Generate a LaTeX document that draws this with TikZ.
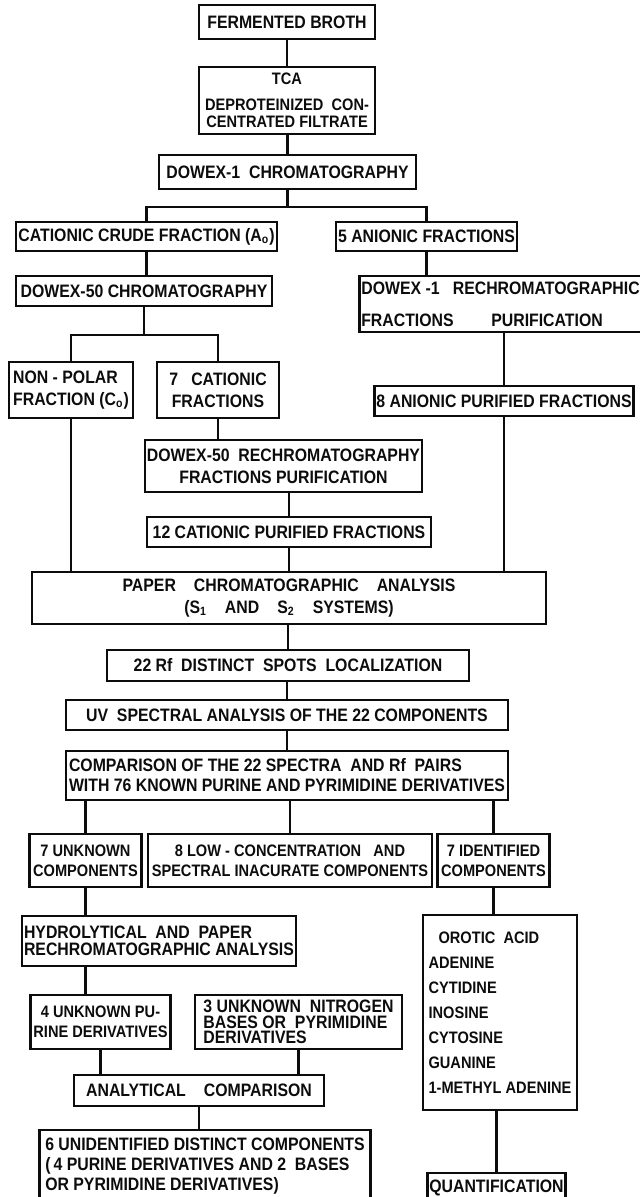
\documentclass[tikz,border=0pt]{standalone}
\usepackage{xcolor,tikz,fontspec}
\setmainfont{Liberation Sans}[FakeStretch=0.88]
\usetikzlibrary{positioning,calc}
\definecolor{ink}{RGB}{12,12,12}
\tikzset{
  box/.style={draw=ink,line width=1.3pt,inner sep=1pt,align=center,text=ink,font=\fontsize{9}{10}\selectfont\bfseries},
  lbox/.style={box,align=left},
  narrow/.style={font=\fontsize{8.3}{10}\selectfont\bfseries},
  link/.style={draw=ink,line width=1.1pt}
}

\begin{document}
\begin{tikzpicture}[x=0.5pt,y=-0.5pt]
  \useasboundingbox (0,0) rectangle (640,1197);

  \node[box,minimum width=88pt,minimum height=17pt] (broth) at (287,22) {FERMENTED BROTH};
  \node[box,narrow,minimum width=88pt,minimum height=33.5pt] (tca) at (287,100.5) {TCA\\[3pt]DEPROTEINIZED\ \ CON-\\[-1.5pt]CENTRATED FILTRATE};
  \node[box,minimum width=128.5pt,minimum height=17pt] (dowex1) at (287.5,172) {DOWEX-1\ \ CHROMATOGRAPHY};

  \node[box,minimum width=130.5pt,minimum height=14.5pt] (cation) at (146.5,236.5) {CATIONIC CRUDE FRACTION (A\textsubscript{o})};
  \node[box,minimum width=88.5pt,minimum height=14.5pt] (anion5) at (426.5,236.5) {5 ANIONIC FRACTIONS};
  \node[box,minimum width=128pt,minimum height=15pt] (dowex50) at (144,291) {DOWEX-50 CHROMATOGRAPHY};
  \node[lbox,minimum width=137.5pt,minimum height=28pt] (rechrom1) at (500.5,304) {DOWEX -1\ \ \ RECHROMATOGRAPHIC\\[6pt]\makebox[65pt][l]{FRACTIONS}PURIFICATION};
  \node[box,minimum width=128.5pt,minimum height=15pt] (anion8) at (504,401) {8 ANIONIC PURIFIED FRACTIONS};

  \node[lbox,minimum width=62pt,minimum height=28pt] (nonpolar) at (71,390) {NON - POLAR\\[1pt]FRACTION (C\textsubscript{o})};
  \node[box,minimum width=61pt,minimum height=28pt] (cat7) at (218,390) {7\ \ \ CATIONIC\\[1pt]FRACTIONS};
  \node[box,minimum width=136.5pt,minimum height=26pt] (dowex50r) at (283.5,466) {DOWEX-50\ \ RECHROMATOGRAPHY\\[1pt]FRACTIONS PURIFICATION};
  \node[box,minimum width=142pt,minimum height=15pt] (cat12) at (289,532) {12 CATIONIC PURIFIED FRACTIONS};

  \node[box,minimum width=257pt,minimum height=26pt] (paper) at (289,598) {PAPER\quad CHROMATOGRAPHIC\quad ANALYSIS\\[1pt](S\textsubscript{1}\quad AND\quad S\textsubscript{2}\quad SYSTEMS)};
  \node[box,minimum width=181pt,minimum height=15.5pt] (rf22) at (288,665.5) {22 Rf\ \ DISTINCT\ \ SPOTS\ \ LOCALIZATION};
  \node[box,minimum width=221pt,minimum height=15pt] (uv) at (287,715) {UV\ \ SPECTRAL ANALYSIS OF THE 22 COMPONENTS};
  \node[lbox,minimum width=221pt,minimum height=24.5pt] (comp) at (287,775.5) {COMPARISON OF THE 22 SPECTRA\ \ AND Rf\ \ PAIRS\\WITH 76 KNOWN PURINE AND PYRIMIDINE DERIVATIVES};

  \node[box,narrow,minimum width=56pt,minimum height=26.5pt] (unk7) at (85.5,860.5) {7 UNKNOWN\\COMPONENTS};
  \node[box,narrow,minimum width=142pt,minimum height=26.5pt] (low8) at (290,860.5) {8 LOW - CONCENTRATION\ \ \ AND\\SPECTRAL INACURATE COMPONENTS};
  \node[box,narrow,minimum width=56pt,minimum height=26.5pt] (ident7) at (493.5,860.5) {7 IDENTIFIED\\COMPONENTS};

  \node[lbox,minimum width=128pt,minimum height=25pt] (hydro) at (159,941) {HYDROLYTICAL\ \ AND\ \ PAPER\\[-1.5pt]RECHROMATOGRAPHIC ANALYSIS};
  \node[lbox,narrow,minimum width=77pt,minimum height=97.5pt] (idlist) at (500,1012.5) {\hspace*{5pt}OROTIC\ \ ACID\\[2.5pt]ADENINE\\[2.5pt]CYTIDINE\\[2.5pt]INOSINE\\[2.5pt]CYTOSINE\\[2.5pt]GUANINE\\[2.5pt]1-METHYL ADENINE};
  \node[box,narrow,minimum width=70pt,minimum height=27pt] (unk4) at (100.5,1022) {4 UNKNOWN PU-\\RINE DERIVATIVES};
  \node[lbox,minimum width=103.5pt,minimum height=27pt] (unk3) at (298.5,1022) {3 UNKNOWN\ \ NITROGEN\\[-2.2pt]BASES OR\ \ PYRIMIDINE\\[-2.2pt]DERIVATIVES};
  \node[box,minimum width=125pt,minimum height=15.5pt] (analyt) at (199,1090.5) {ANALYTICAL\quad COMPARISON};
  \node[lbox,minimum width=165.5pt,minimum height=36pt] (unid6) at (205,1166) {6 UNIDENTIFIED DISTINCT COMPONENTS\\(\,4 PURINE DERIVATIVES AND 2\ \ BASES\\OR PYRIMIDINE DERIVATIVES)};
  \node[box,minimum width=68.5pt,minimum height=15pt] (quant) at (496.5,1188) {QUANTIFICATION};

  \draw[link] (dowex1.south) -- ++(0,17) -| (cation.north);
  \draw[link] (dowex1.south) -- ++(0,17) -| (anion5.north);
  \draw[link] (dowex50.south) -- ++(0,28) -| (nonpolar.north);
  \draw[link] (dowex50.south) -- ++(0,28) -| (cat7.north);
  \draw[link] (unk7 |- hydro.south) -- (unk7 |- unk4.north);
  \foreach \a/\b in {broth/tca,tca/dowex1,rechrom1/anion8,dowex50r/cat12,paper/rf22,rf22/uv,uv/comp,comp/unk7,comp/low8,comp/ident7,idlist/quant}
    \draw[link] (\a.south -| \b) -- (\b.north);
  \foreach \a/\b in {cation/dowex50,anion5/rechrom1,cat7/dowex50r,cat12/paper,nonpolar/paper,anion8/paper,unk7/hydro,ident7/idlist,unk4/analyt,unk3/analyt,analyt/unid6}
    \draw[link] (\a.south) -- (\a.south |- \b.north);
\end{tikzpicture}
\end{document}
